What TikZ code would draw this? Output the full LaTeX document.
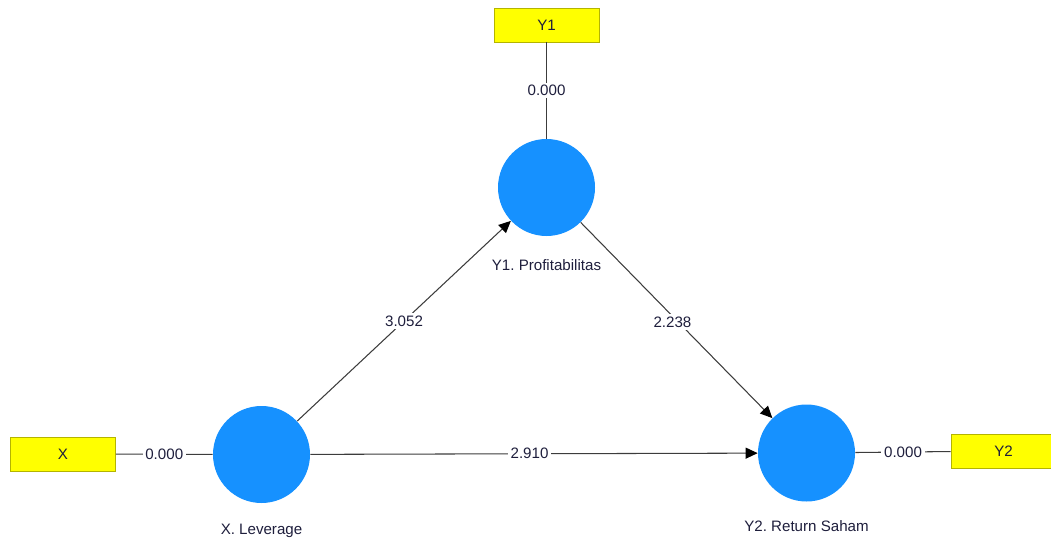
\documentclass[tikz,border=0pt]{standalone}
\usepackage{fontspec}
\setmainfont{Liberation Sans}
\definecolor{lvblue}{HTML}{1691FF}
\definecolor{indyellow}{HTML}{FFFF00}
\definecolor{indedge}{HTML}{B4B400}
\definecolor{pathgray}{HTML}{3C3C3C}
\definecolor{txtdark}{HTML}{1E1E3C}
\usetikzlibrary{arrows.meta,positioning}
\frenchspacing

\begin{document}
\begin{tikzpicture}[
  font=\fontsize{8.6}{10}\selectfont,
  latent/.style={circle, fill=lvblue, draw=none, minimum size=1.94cm, inner sep=0pt},
  indicator/.style={rectangle, draw=indedge, fill=indyellow, minimum width=2.1cm, minimum height=0.68cm, text=txtdark},
  lvname/.style={text=txtdark, inner sep=1pt},
  coef/.style={fill=white, text=txtdark, inner sep=1.5pt},
  link/.style={pathgray, line width=0.6pt},
  path/.style={link, -{Triangle[length=0.24cm, width=0.22cm, color=black]}},
]
\useasboundingbox (0,0) rectangle (21.02,10.76);
% latent variables
\node[latent] (y1) at (10.93,7.01) {};
\node[latent] (x) at (5.23,1.67) {};
\node[latent] (y2) at (16.13,1.70) {};
\node[lvname, below=0.42cm of y1] (y1name) {Y1. Profitabilitas};
\node[lvname, below=0.37cm of x] (xname) {X. Leverage};
\node[lvname, below=0.33cm of y2] (y2name) {Y2. Return Saham};
% indicators
\node[indicator] (y1ind) at (10.93,10.26) {Y1};
\node[indicator] (xind) at (1.26,1.68) {X};
\node[indicator] (y2ind) at (20.07,1.74) {Y2};
% outer model
\draw[link] (y1ind) -- node[coef] (c1) {0.000} (y1);
\draw[link] (xind) -- node[coef] (c2) {0.000} (x);
\draw[link] (y2) -- node[coef] (c3) {0.000} (y2ind);
% inner model
\draw[path] (x) -- node[coef] (c4) {3.052} (y1);
\draw[path] (y1) -- node[coef, pos=0.51, xshift=-0.12cm] (c5) {2.238} (y2);
\draw[path] (x) -- node[coef, pos=0.49] (c6) {2.910} (y2);
\end{tikzpicture}
\end{document}
